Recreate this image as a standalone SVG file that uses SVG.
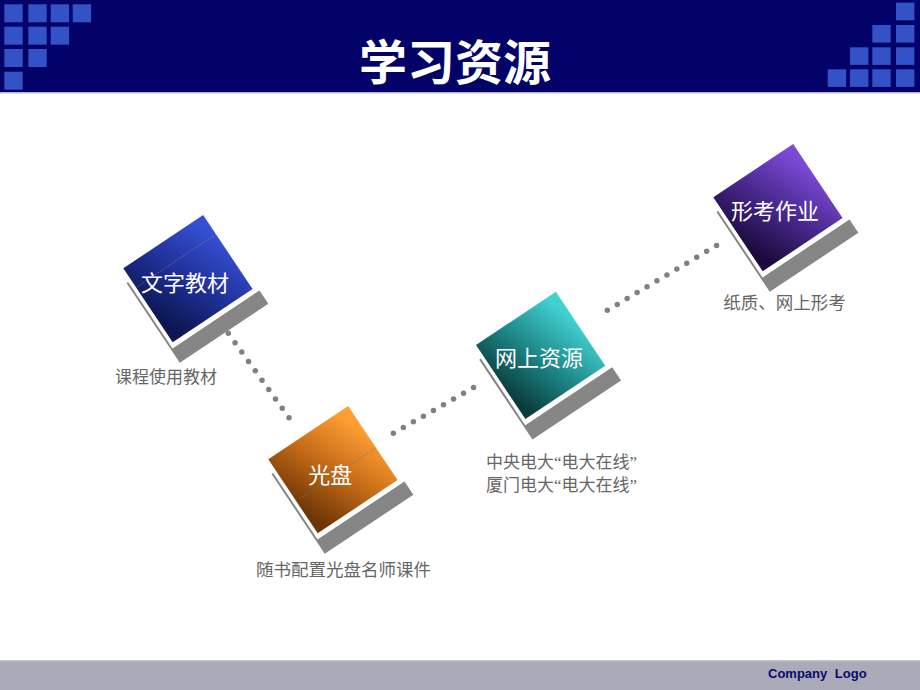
<svg xmlns="http://www.w3.org/2000/svg" width="920" height="690" viewBox="0 0 920 690">
  <style>
    .sq { fill: #3352c8; }
    .shadow { fill: #868686; }
    .label { font-family: "Noto Sans CJK SC", "Liberation Sans", sans-serif; font-size: 22px; fill: #ffffff; text-anchor: middle; }
    .cap { font-family: "Noto Sans CJK SC", "Liberation Sans", sans-serif; font-size: 17px; fill: #666666; }
    .cap2 { font-size: 17.5px; }
    .q { font-family: "Liberation Serif", serif; }
    .dots { fill: none; stroke: #808080; stroke-width: 5.5; stroke-linecap: round; stroke-dasharray: 0 11.55; }
  </style>
  <defs>
    <linearGradient id="gBlue" x1="0" y1="0.7" x2="1" y2="0.3">
      <stop offset="0" stop-color="#0c1650"/>
      <stop offset="0.5" stop-color="#1f3098"/>
      <stop offset="1" stop-color="#3550d4"/>
    </linearGradient>
    <linearGradient id="gOrange" x1="0" y1="0.7" x2="1" y2="0.3">
      <stop offset="0" stop-color="#6e3606"/>
      <stop offset="0.5" stop-color="#c46a18"/>
      <stop offset="1" stop-color="#ffa032"/>
    </linearGradient>
    <linearGradient id="gTeal" x1="0" y1="0.7" x2="1" y2="0.4">
      <stop offset="0" stop-color="#0a3c3c"/>
      <stop offset="0.5" stop-color="#1e8888"/>
      <stop offset="1" stop-color="#42d0d0"/>
    </linearGradient>
    <linearGradient id="gPurple" x1="0" y1="0.7" x2="1" y2="0.3">
      <stop offset="0" stop-color="#1c0a3c"/>
      <stop offset="0.5" stop-color="#48288c"/>
      <stop offset="1" stop-color="#7c4ad8"/>
    </linearGradient>
  </defs>

  <!-- background -->
  <rect x="0" y="0" width="920" height="690" fill="#ffffff"/>

  <!-- header -->
  <g id="header">
    <rect x="0" y="0" width="920" height="92" fill="#020268"/>
    <rect x="0" y="92" width="920" height="1.5" fill="#b8b8c8"/>
    <rect class="sq" x="4.3" y="4.3" width="18.4" height="18"/>
    <rect class="sq" x="28.3" y="4.3" width="18.4" height="18"/>
    <rect class="sq" x="50.7" y="4.3" width="18.4" height="18"/>
    <rect class="sq" x="72.7" y="4.3" width="18.4" height="18"/>
    <rect class="sq" x="4.3" y="26.7" width="18.4" height="18"/>
    <rect class="sq" x="28.3" y="26.7" width="18.4" height="18"/>
    <rect class="sq" x="50.7" y="26.7" width="18.4" height="18"/>
    <rect class="sq" x="4.3" y="49" width="18.4" height="18"/>
    <rect class="sq" x="28.3" y="49" width="18.4" height="18"/>
    <rect class="sq" x="4.3" y="71.7" width="18.4" height="18"/>
    <rect class="sq" x="896" y="2.7" width="18.4" height="17.6"/>
    <rect class="sq" x="872.3" y="25" width="18.4" height="17.6"/>
    <rect class="sq" x="896" y="25" width="18.4" height="17.6"/>
    <rect class="sq" x="850" y="47.3" width="18.4" height="17.6"/>
    <rect class="sq" x="872.3" y="47.3" width="18.4" height="17.6"/>
    <rect class="sq" x="896" y="47.3" width="18.4" height="17.6"/>
    <rect class="sq" x="827.7" y="69.3" width="18.4" height="17.6"/>
    <rect class="sq" x="850" y="69.3" width="18.4" height="17.6"/>
    <rect class="sq" x="872.3" y="69.3" width="18.4" height="17.6"/>
    <rect class="sq" x="896" y="69.3" width="18.4" height="17.6"/>
    <text x="455" y="80" font-family="'Noto Sans CJK SC', 'Liberation Sans', sans-serif" font-size="48" font-weight="bold" fill="#ffffff" text-anchor="middle">学习资源</text>
  </g>

  <!-- connectors -->
  <g id="connectors">
    <line class="dots" x1="228.3" y1="333.3" x2="295.7" y2="427"/>
    <line class="dots" x1="393.3" y1="433.3" x2="483.3" y2="382"/>
    <line class="dots" x1="607.3" y1="310.3" x2="726.3" y2="239.7"/>
  </g>

  <!-- node: 文字教材 -->
  <g id="node-wenzi">
    <g transform="translate(123.3,268.3) rotate(-33.7)">
      <path class="shadow" d="M-5.5,14 H-3.5 V94 H101 V110 H-5.5 Z"/>
      <rect width="96" height="89" fill="url(#gBlue)"/>
      <line x1="2" y1="23" x2="96" y2="23" stroke="#b0a070" stroke-width="0.8" stroke-dasharray="1.5 1.5" opacity="0.6"/>
    </g>
    <text class="label" x="185" y="291">文字教材</text>
    <text class="cap" x="115" y="383">课程使用教材</text>
  </g>

  <!-- node: 光盘 -->
  <g id="node-guangpan">
    <g transform="translate(268.3,459.3) rotate(-33.7)">
      <path class="shadow" d="M-5.5,14 H-3.5 V94 H101 V110 H-5.5 Z"/>
      <rect width="96" height="89" fill="url(#gOrange)"/>
      <line x1="4" y1="50" x2="96" y2="50" stroke="#4a7fa8" stroke-width="0.8" stroke-dasharray="1.5 1.5" opacity="0.7"/>
    </g>
    <text class="label" x="330.3" y="483">光盘</text>
    <text class="cap cap2" x="256" y="576">随书配置光盘名师课件</text>
  </g>

  <!-- node: 网上资源 -->
  <g id="node-wangshang">
    <g transform="translate(476,345) rotate(-33.7)">
      <path class="shadow" d="M-5.5,14 H-3.5 V94 H101 V110 H-5.5 Z"/>
      <rect width="96" height="89" fill="url(#gTeal)"/>
    </g>
    <text class="label" x="539" y="366">网上资源</text>
    <text class="cap" x="486" y="468">中央电大<tspan class="q">“</tspan>电大在线<tspan class="q">”</tspan></text>
    <text class="cap" x="486" y="491">厦门电大<tspan class="q">“</tspan>电大在线<tspan class="q">”</tspan></text>
  </g>

  <!-- node: 形考作业 -->
  <g id="node-xingkao">
    <g transform="translate(713.3,197.3) rotate(-33.7)">
      <path class="shadow" d="M-5.5,14 H-3.5 V94 H101 V110 H-5.5 Z"/>
      <rect width="96" height="89" fill="url(#gPurple)"/>
    </g>
    <text class="label" x="775" y="219">形考作业</text>
    <text class="cap cap2" x="723.3" y="309">纸质、网上形考</text>
  </g>

  <!-- footer -->
  <g id="footer">
    <rect x="0" y="660" width="920" height="30" fill="#aaaab8"/>
    <rect x="0" y="660" width="920" height="1.5" fill="#c4c4cc"/>
    <text x="768" y="678" font-family="'Liberation Sans', Arial, sans-serif" font-size="13" font-weight="bold" fill="#0a0a6e" word-spacing="4">Company Logo</text>
  </g>
</svg>
